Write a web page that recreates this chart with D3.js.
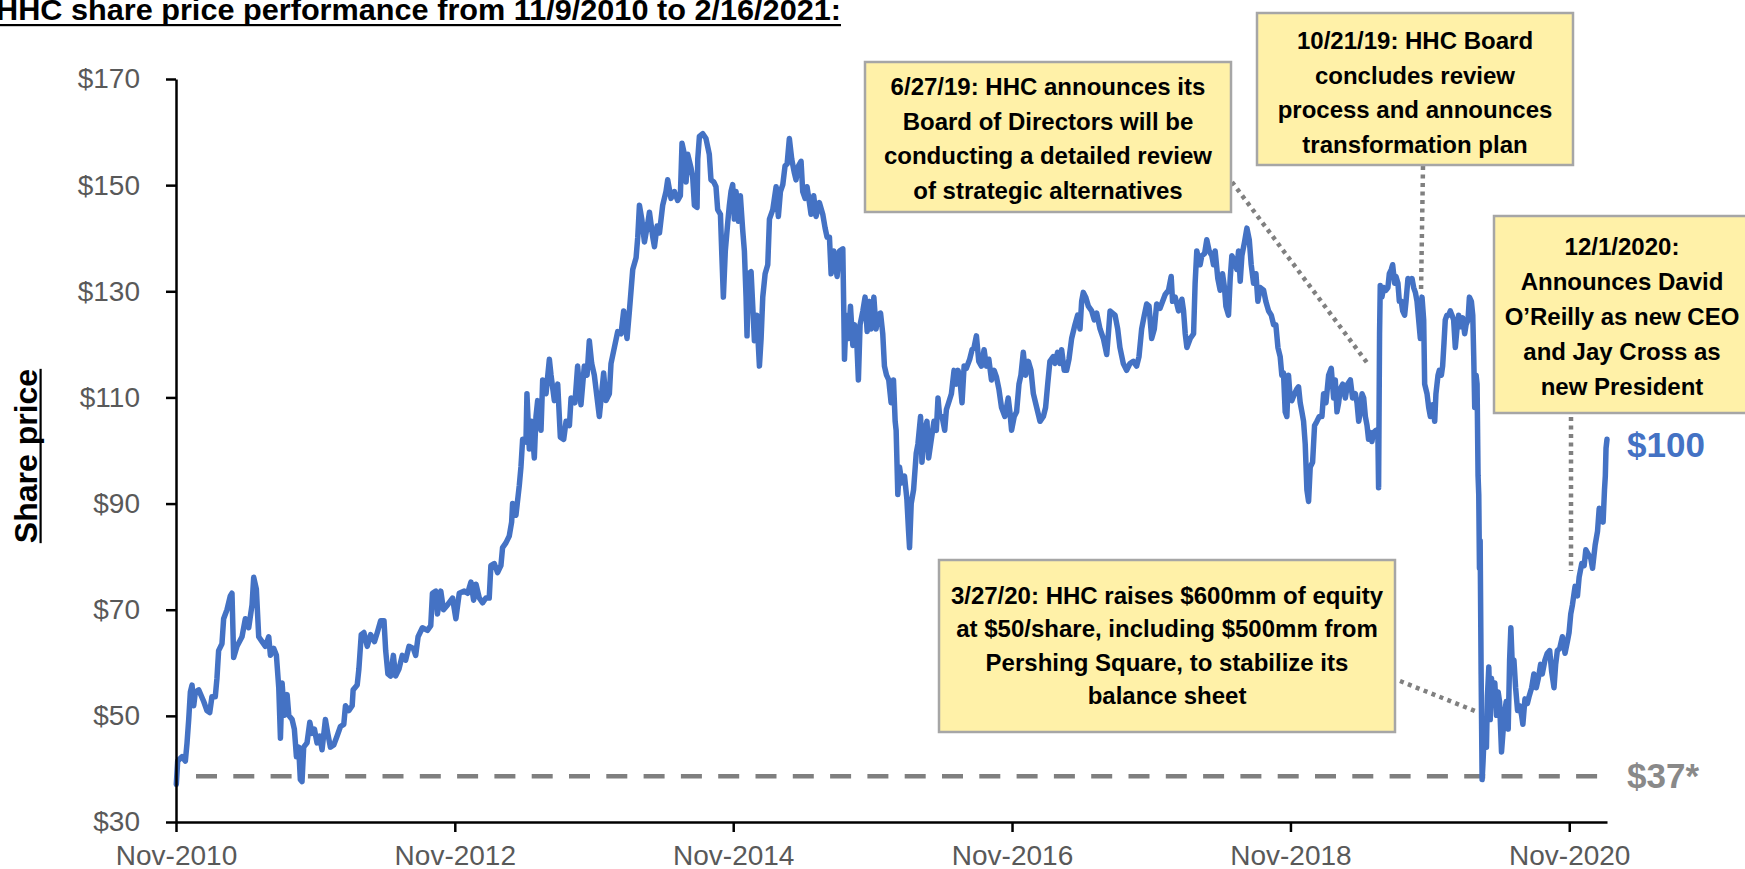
<!DOCTYPE html>
<html>
<head>
<meta charset="utf-8">
<script src="https://cdn.jsdelivr.net/npm/d3@7"></script>
<style>
  body { margin: 0; background: #fff; }
  svg { display: block; font-family: "Liberation Sans", Arial, sans-serif; }
</style>
</head>
<body>
<div id="chart"></div>
<script>
// share price, [fractional year, price]
const price2010to2014 = [
  [2010.857,37.1],[2010.867,41.5],[2010.898,42.3],[2010.922,41.5],[2010.934,44.9],[2010.946,49.3],[2010.958,54.5],[2010.970,55.8],[2010.982,51.9],[2010.994,54.5],
  [2011.018,54.9],[2011.054,52.7],[2011.077,51.0],[2011.097,50.6],[2011.113,53.6],[2011.137,53.6],[2011.149,57.1],[2011.161,62.3],[2011.185,63.6],[2011.197,68.3],
  [2011.221,70.0],[2011.245,72.6],[2011.257,73.1],[2011.269,61.0],[2011.293,63.1],[2011.329,64.9],[2011.353,68.3],[2011.377,66.6],[2011.401,70.9],[2011.413,76.1],
  [2011.432,73.9],[2011.449,64.9],[2011.473,64.0],[2011.497,63.1],[2011.521,64.9],[2011.533,61.4],[2011.557,62.7],[2011.576,61.4],[2011.593,55.3],[2011.605,45.8],
  [2011.617,56.2],[2011.633,50.1],[2011.653,54.0],[2011.665,50.1],[2011.689,49.3],[2011.705,47.5],[2011.720,42.3],[2011.736,44.1],[2011.748,38.0],[2011.760,37.6],
  [2011.772,44.1],[2011.796,44.9],[2011.816,48.8],[2011.832,46.7],[2011.849,47.5],[2011.868,44.9],[2011.887,46.2],[2011.904,43.6],[2011.928,49.3],[2011.945,46.7],
  [2011.964,44.1],[2011.988,44.5],[2012.012,46.2],[2012.036,48.0],[2012.060,48.4],[2012.072,51.9],[2012.096,51.0],[2012.120,51.9],[2012.127,54.9],[2012.156,55.8],
  [2012.168,58.8],[2012.185,65.3],[2012.204,65.7],[2012.228,63.1],[2012.252,65.3],[2012.280,64.0],[2012.300,65.7],[2012.324,67.9],[2012.348,67.9],[2012.360,62.3],
  [2012.376,57.9],[2012.395,57.5],[2012.415,61.4],[2012.431,57.5],[2012.455,58.8],[2012.479,61.4],[2012.503,60.5],[2012.527,63.1],[2012.558,62.7],[2012.575,61.4],
  [2012.592,64.9],[2012.623,66.6],[2012.659,66.1],[2012.683,67.0],[2012.695,73.1],[2012.719,73.5],[2012.731,69.2],[2012.755,73.5],[2012.774,70.0],[2012.803,70.9],
  [2012.839,72.2],[2012.863,68.3],[2012.887,73.1],[2012.923,73.5],[2012.947,73.1],[2012.971,75.2],[2012.990,71.8],[2013.007,74.8],[2013.031,72.2],[2013.054,71.3],
  [2013.078,72.2],[2013.102,72.2],[2013.114,78.3],[2013.138,78.7],[2013.162,77.0],[2013.186,78.3],[2013.198,81.7],[2013.222,82.6],[2013.246,83.9],[2013.263,86.5],
  [2013.270,90.0],[2013.294,87.8],[2013.318,93.4],[2013.330,96.9],[2013.342,102.1],[2013.366,101.6],[2013.373,110.7],[2013.390,100.3],[2013.407,105.5],[2013.426,98.6],
  [2013.438,106.4],[2013.450,109.4],[2013.474,103.8],[2013.486,113.3],[2013.510,110.7],[2013.534,117.2],[2013.546,114.2],[2013.570,109.4],[2013.594,112.5],[2013.613,102.5],
  [2013.637,102.1],[2013.654,105.5],[2013.678,104.7],[2013.690,109.9],[2013.718,109.0],[2013.737,115.9],[2013.761,108.6],[2013.785,115.9],[2013.805,114.2],[2013.821,120.7],
  [2013.838,116.4],[2013.857,114.2],[2013.893,106.4],[2013.924,114.6],[2013.941,109.4],[2013.965,110.7],[2013.977,116.4],[2014.001,119.4],[2014.025,122.4],[2014.049,122.0],
  [2014.068,126.3],[2014.092,121.1],[2014.109,126.3],[2014.121,130.2],[2014.133,134.1],[2014.157,136.3],[2014.169,140.2],[2014.181,146.2],[2014.198,143.6],[2014.217,139.3],
  [2014.241,142.8],[2014.253,144.9],[2014.277,140.2],[2014.289,138.4],[2014.308,142.3],[2014.325,141.0]
];
const price2014to2017 = [
  [2014.348,146.2],[2014.372,148.8],[2014.384,151.0],[2014.408,147.5],[2014.432,148.8],[2014.456,147.1],[2014.475,148.0],[2014.487,157.9],[2014.504,155.8],[2014.516,150.6],
  [2014.528,155.8],[2014.552,153.2],[2014.564,151.4],[2014.576,146.2],[2014.595,145.8],[2014.600,154.9],[2014.612,159.2],[2014.636,159.7],[2014.659,158.8],[2014.683,155.8],
  [2014.695,151.0],[2014.715,150.6],[2014.731,149.7],[2014.743,145.4],[2014.763,144.5],[2014.772,137.6],[2014.784,128.9],[2014.798,137.6],[2014.815,142.8],[2014.827,146.2],
  [2014.839,148.8],[2014.851,150.1],[2014.863,143.6],[2014.875,148.8],[2014.892,143.2],[2014.906,148.0],[2014.923,141.5],[2014.935,137.6],[2014.947,128.9],[2014.954,121.6],
  [2014.964,133.3],[2014.983,133.7],[2014.995,127.2],[2015.007,120.7],[2015.024,125.5],[2015.043,115.9],[2015.055,121.1],[2015.067,128.9],[2015.084,133.3],[2015.103,135.0],
  [2015.115,143.6],[2015.139,145.4],[2015.163,149.7],[2015.179,144.1],[2015.194,148.8],[2015.211,150.1],[2015.227,153.6],[2015.242,154.0],[2015.258,158.8],[2015.275,154.9],
  [2015.294,152.3],[2015.306,151.0],[2015.323,153.6],[2015.342,154.5],[2015.354,148.8],[2015.371,147.5],[2015.385,149.7],[2015.402,146.7],[2015.414,144.5],[2015.433,148.0],
  [2015.450,144.1],[2015.474,146.7],[2015.498,144.5],[2015.515,141.9],[2015.529,140.2],[2015.546,140.2],[2015.558,133.3],[2015.577,137.6],[2015.601,132.8],[2015.618,137.6],
  [2015.642,138.0],[2015.649,126.3],[2015.654,117.2],[2015.666,125.5],[2015.683,121.1],[2015.697,127.2],[2015.714,119.8],[2015.726,123.7],[2015.742,120.7],[2015.754,113.3],
  [2015.766,123.7],[2015.786,126.3],[2015.802,128.9],[2015.817,122.4],[2015.833,128.1],[2015.845,122.9],[2015.865,128.9],[2015.881,122.9],[2015.893,125.5],[2015.913,125.9],
  [2015.929,122.0],[2015.941,115.9],[2015.956,114.2],[2015.972,113.3],[2015.989,109.0],[2016.006,113.3],[2016.018,105.5],[2016.025,103.8],[2016.037,91.7],[2016.049,96.9],
  [2016.066,93.9],[2016.085,95.2],[2016.102,90.8],[2016.114,84.8],[2016.121,81.7],[2016.133,90.0],[2016.150,92.6],[2016.169,99.5],[2016.181,101.2],[2016.200,106.4],
  [2016.210,97.8],[2016.229,103.8],[2016.246,105.5],[2016.258,98.6],[2016.277,102.1],[2016.296,105.5],[2016.313,103.8],[2016.325,109.9],[2016.337,106.4],[2016.354,106.4],
  [2016.373,103.8],[2016.385,107.7],[2016.401,109.0],[2016.421,110.7],[2016.440,115.1],[2016.457,112.5],[2016.469,115.1],[2016.485,112.5],[2016.497,109.0],[2016.512,115.9],
  [2016.528,115.5],[2016.552,117.2],[2016.569,119.0],[2016.583,119.4],[2016.600,121.6],[2016.617,116.8],[2016.636,115.9],[2016.655,119.0],[2016.672,115.9],[2016.689,117.2],
  [2016.708,113.3],[2016.727,115.1],[2016.744,113.8],[2016.761,111.6],[2016.780,108.1],[2016.804,106.4],[2016.828,109.9],[2016.840,107.3],[2016.852,103.8],[2016.871,106.4],
  [2016.888,107.3],[2016.905,112.5],[2016.919,114.2],[2016.936,118.5],[2016.952,114.2],[2016.972,116.8],[2016.991,115.1],[2017.008,110.7],[2017.032,108.1],[2017.056,105.5],
  [2017.080,106.4],[2017.096,108.1],[2017.111,112.5],[2017.127,116.8],[2017.151,117.7],[2017.163,116.4],[2017.182,118.5],[2017.199,116.4],[2017.211,119.0],[2017.230,115.1],
  [2017.247,115.1],[2017.264,117.2],[2017.283,121.1],[2017.307,123.7],[2017.326,125.5],[2017.343,122.9],[2017.355,128.1],[2017.367,129.8],[2017.384,128.9],[2017.403,127.2],
  [2017.427,126.3],[2017.446,124.6],[2017.463,125.9],[2017.487,122.9],[2017.511,121.1],[2017.535,118.1],[2017.547,122.0],[2017.559,126.3],[2017.575,125.9],[2017.595,125.5],
  [2017.614,122.9],[2017.630,119.4],[2017.654,116.4],[2017.678,115.1],[2017.702,116.4],[2017.726,116.8],[2017.750,115.9],[2017.767,117.7],[2017.786,122.9],[2017.805,125.5],
  [2017.822,127.6],[2017.839,127.2],[2017.858,121.1],[2017.877,122.9],[2017.894,127.6],[2017.918,126.8]
];
const price2017to2021 = [
  [2017.955,129.4],[2017.979,130.2],[2017.998,132.8],[2018.008,128.1],[2018.027,128.9],[2018.051,126.3],[2018.075,128.5],[2018.087,126.3],[2018.099,122.0],[2018.111,119.4],
  [2018.135,121.1],[2018.159,122.0],[2018.170,131.5],[2018.182,137.6],[2018.206,135.0],[2018.218,136.7],[2018.238,137.1],[2018.254,139.7],[2018.271,137.6],[2018.290,136.7],
  [2018.302,135.0],[2018.314,137.6],[2018.333,132.4],[2018.350,130.2],[2018.367,133.3],[2018.381,130.7],[2018.391,127.2],[2018.410,125.5],[2018.422,132.4],[2018.434,136.7],
  [2018.453,135.8],[2018.470,134.1],[2018.482,137.6],[2018.494,131.9],[2018.506,136.7],[2018.525,139.3],[2018.542,141.9],[2018.559,139.7],[2018.573,135.0],[2018.590,131.5],
  [2018.607,133.3],[2018.621,128.1],[2018.638,130.7],[2018.662,130.2],[2018.678,128.1],[2018.698,126.3],[2018.717,125.5],[2018.734,123.7],[2018.750,123.7],[2018.765,119.4],
  [2018.781,117.7],[2018.793,114.2],[2018.805,114.6],[2018.817,107.3],[2018.829,106.4],[2018.841,114.2],[2018.853,109.9],[2018.865,109.4],[2018.884,110.7],[2018.901,111.6],
  [2018.913,112.0],[2018.925,109.0],[2018.937,107.3],[2018.949,105.5],[2018.961,101.2],[2018.973,92.6],[2018.985,90.4],[2018.997,96.9],[2019.014,97.8],[2019.028,104.7],
  [2019.045,105.5],[2019.062,106.4],[2019.081,106.4],[2019.093,110.7],[2019.110,109.0],[2019.129,114.2],[2019.148,115.5],[2019.165,109.9],[2019.177,113.3],[2019.189,107.3],
  [2019.201,109.0],[2019.213,111.6],[2019.230,112.5],[2019.249,109.9],[2019.265,112.5],[2019.285,113.3],[2019.301,109.9],[2019.321,110.7],[2019.333,109.0],[2019.345,105.5],
  [2019.357,107.3],[2019.369,110.7],[2019.381,109.9],[2019.393,106.4],[2019.405,104.7],[2019.416,102.1],[2019.428,103.4],[2019.440,101.7],[2019.452,103.4],[2019.469,103.8],
  [2019.483,103.0],[2019.488,93.0],[2019.495,122.0],[2019.500,131.1],[2019.512,128.9],[2019.524,130.7],[2019.541,130.2],[2019.555,130.7],[2019.565,133.3],[2019.579,134.1],
  [2019.589,135.0],[2019.603,131.5],[2019.613,132.8],[2019.627,131.5],[2019.637,128.1],[2019.651,128.1],[2019.661,126.3],[2019.675,125.5],[2019.685,128.1],[2019.699,132.4],
  [2019.716,131.9],[2019.728,132.4],[2019.740,130.7],[2019.752,129.8],[2019.764,128.1],[2019.776,124.6],[2019.788,121.1],[2019.800,128.9],[2019.812,124.6],[2019.819,112.5],
  [2019.836,110.7],[2019.848,108.1],[2019.860,106.4],[2019.877,108.6],[2019.891,105.5],[2019.900,110.7],[2019.915,114.2],[2019.924,115.1],[2019.939,114.2],[2019.948,115.9],
  [2019.958,120.3],[2019.967,124.6],[2019.979,125.5],[2019.991,125.5],[2020.003,126.3],[2020.015,125.5],[2020.027,124.6],[2020.039,119.4],[2020.051,122.9],[2020.063,125.5],
  [2020.075,123.3],[2020.092,125.0],[2020.106,122.0],[2020.116,123.7],[2020.130,124.6],[2020.140,128.9],[2020.154,128.1],[2020.164,125.5],[2020.171,117.7],[2020.178,108.1],
  [2020.188,114.2],[2020.195,112.5],[2020.202,95.2],[2020.207,91.7],[2020.212,77.8],[2020.217,83.0],[2020.224,57.9],[2020.231,38.0],[2020.238,41.5],[2020.246,46.7],
  [2020.255,49.3],[2020.262,44.1],[2020.269,53.6],[2020.279,59.2],[2020.289,49.3],[2020.298,57.1],[2020.308,53.6],[2020.322,56.2],[2020.334,50.1],[2020.346,54.5],
  [2020.356,52.7],[2020.370,43.2],[2020.380,46.7],[2020.394,51.0],[2020.404,52.7],[2020.418,47.5],[2020.428,60.5],[2020.437,66.6],[2020.447,59.7],[2020.459,60.5],
  [2020.471,55.3],[2020.485,51.0],[2020.500,51.9],[2020.514,50.1],[2020.523,48.4],[2020.538,53.2],[2020.555,52.3],[2020.567,53.6],[2020.586,55.3],[2020.602,57.9],
  [2020.619,55.3],[2020.634,57.1],[2020.650,59.7],[2020.662,57.9],[2020.681,60.5],[2020.698,61.8],[2020.715,62.3],[2020.729,58.4],[2020.746,55.3],[2020.758,59.7],
  [2020.770,62.3],[2020.787,62.7],[2020.806,64.9],[2020.825,61.8],[2020.842,64.0],[2020.854,65.7],[2020.866,69.2],[2020.878,70.9],[2020.897,74.4],[2020.914,72.6],
  [2020.926,76.1],[2020.945,78.7],[2020.962,78.3],[2020.974,81.3],[2020.993,80.4],[2021.010,79.6],[2021.022,77.8],[2021.041,82.2],[2021.058,84.8],[2021.070,89.1],
  [2021.089,88.2],[2021.098,86.5],[2021.108,92.6],[2021.114,95.2],[2021.119,100.4],[2021.126,102.1]
];

const yTickValues = [30, 50, 70, 90, 110, 130, 150, 170];
const xTickDates = ['2010-11-09', '2012-11-09', '2014-11-09', '2016-11-09', '2018-11-09', '2020-11-09'];
const xTickLabels = ['Nov-2010', 'Nov-2012', 'Nov-2014', 'Nov-2016', 'Nov-2018', 'Nov-2020'];
const dateRange = ['2010-11-09', '2021-02-16'];

const refPrice = 38.6;
const refLabel = '$37*';
const lastLabel = '$100';
const titleText = 'HHC share price performance from 11/9/2010 to 2/16/2021:';
const yTitle = 'Share price';

const noteLines = [
  ['6/27/19: HHC announces its', 'Board of Directors will be', 'conducting a detailed review', 'of strategic alternatives'],
  ['10/21/19: HHC Board', 'concludes review', 'process and announces', 'transformation plan'],
  ['12/1/2020:', 'Announces David', 'O\u2019Reilly as new CEO', 'and Jay Cross as', 'new President'],
  ['3/27/20: HHC raises $600mm of equity', 'at $50/share, including $500mm from', 'Pershing Square, to stabilize its', 'balance sheet']
];

// layout of callouts (pixels)
const noteLayout = [
  {x: 865, y: 62, w: 366, h: 150, cx: 1048, base: 95, lh: 34.5, link: [1232, 182, 1368, 364]},
  {x: 1257, y: 13, w: 316, h: 152, cx: 1415, base: 49, lh: 34.5, link: [1423, 166, 1421, 293]},
  {x: 1494, y: 216, w: 262, h: 197, cx: 1622, base: 255, lh: 35, link: [1571, 417, 1571, 571]},
  {x: 939, y: 560, w: 456, h: 172, cx: 1167, base: 603.5, lh: 33.5, link: [1400, 681, 1475, 711]}
];

const config = {width: 1745, height: 869, left: 176, right: 1607, top: 79, bottom: 822};

const blue = '#4472c4';
const grey = '#595959';

const svg = d3.select('#chart').append('svg')
  .attr('width', config.width)
  .attr('height', config.height);

const toDate = s => new Date(s + 'T00:00:00Z');
const yearToDate = t => {
  const yr = Math.floor(t);
  const a = Date.UTC(yr, 0, 1), b = Date.UTC(yr + 1, 0, 1);
  return new Date(a + (t - yr) * (b - a));
};

const x = d3.scaleUtc()
  .domain(dateRange.map(toDate))
  .range([config.left, config.right]);

const y = d3.scaleLinear()
  .domain([30, 170])
  .range([config.bottom, config.top]);

const series = price2010to2014.concat(price2014to2017, price2017to2021);

// dashed reference line
svg.append('line')
  .attr('x1', config.left + 20)
  .attr('x2', config.right - 9)
  .attr('y1', y(refPrice))
  .attr('y2', y(refPrice))
  .attr('stroke', '#7f7f7f')
  .attr('stroke-width', 4.5)
  .attr('stroke-dasharray', '21,16.3');

// price line
const line = d3.line()
  .x(d => x(yearToDate(d[0])))
  .y(d => y(d[1]));

svg.append('path')
  .datum(series)
  .attr('d', line)
  .attr('fill', 'none')
  .attr('stroke', blue)
  .attr('stroke-width', 5.5)
  .attr('stroke-linejoin', 'round')
  .attr('stroke-linecap', 'round');

// axes
const xAxis = d3.axisBottom(x)
  .tickValues(xTickDates.map(toDate))
  .tickFormat((d, i) => xTickLabels[i])
  .tickSize(10)
  .tickSizeOuter(0)
  .tickPadding(13);

const yAxis = d3.axisLeft(y)
  .tickValues(yTickValues)
  .tickFormat(d => '$' + d)
  .tickSize(10)
  .tickSizeOuter(0)
  .tickPadding(26);

const xg = svg.append('g').attr('transform', `translate(0,${config.bottom})`).call(xAxis);
const yg = svg.append('g').attr('transform', `translate(${config.left},0)`).call(yAxis);

[xg, yg].forEach(g => {
  g.select('.domain').attr('stroke', '#000').attr('stroke-width', 2.5);
  g.selectAll('.tick line').attr('stroke', '#000').attr('stroke-width', 2.5);
  g.selectAll('.tick text')
    .attr('fill', grey)
    .style('font-family', '"Liberation Sans", Arial, sans-serif')
    .style('font-size', '28px');
});

// title
svg.append('text')
  .attr('x', -4)
  .attr('y', 20)
  .attr('textLength', 845)
  .attr('lengthAdjust', 'spacingAndGlyphs')
  .style('font-size', '30px')
  .style('font-weight', 'bold')
  .attr('fill', '#000')
  .text(titleText);
svg.append('rect').attr('x', 0).attr('y', 24).attr('width', 841).attr('height', 2.2).attr('fill', '#000');

// y axis title
const yt = svg.append('text')
  .attr('transform', 'translate(37,456) rotate(-90)')
  .attr('text-anchor', 'middle')
  .style('font-size', '32px')
  .style('font-weight', 'bold')
  .attr('fill', '#000')
  .text(yTitle);
const ytLen = yt.node().getComputedTextLength();
svg.append('rect')
  .attr('x', 39.5).attr('y', 456 - ytLen / 2)
  .attr('width', 2.2).attr('height', ytLen)
  .attr('fill', '#000');

// callout connectors
svg.append('g').selectAll('line')
  .data(noteLayout)
  .join('line')
  .attr('x1', d => d.link[0]).attr('y1', d => d.link[1])
  .attr('x2', d => d.link[2]).attr('y2', d => d.link[3])
  .attr('stroke', '#808080')
  .attr('stroke-width', 4.5)
  .attr('stroke-dasharray', '4,4.5');

// callout boxes
const notes = svg.append('g').selectAll('g')
  .data(noteLayout)
  .join('g');

notes.append('rect')
  .attr('x', d => d.x).attr('y', d => d.y)
  .attr('width', d => d.w).attr('height', d => d.h)
  .attr('fill', '#fff1a8')
  .attr('stroke', '#a6a6a6')
  .attr('stroke-width', 2.5);

notes.each(function (d, i) {
  d3.select(this).selectAll('text')
    .data(noteLines[i])
    .join('text')
    .attr('x', d.cx)
    .attr('y', (s, j) => d.base + j * d.lh)
    .attr('text-anchor', 'middle')
    .style('font-size', '24px')
    .style('font-weight', 'bold')
    .attr('fill', '#000')
    .text(s => s);
});

// end labels
svg.append('text')
  .attr('x', 1627).attr('y', 457)
  .style('font-size', '35px').style('font-weight', 'bold')
  .attr('fill', blue)
  .text(lastLabel);

svg.append('text')
  .attr('x', 1627).attr('y', 788)
  .style('font-size', '35px').style('font-weight', 'bold')
  .attr('fill', '#898989')
  .text(refLabel);
</script>
</body>
</html>
